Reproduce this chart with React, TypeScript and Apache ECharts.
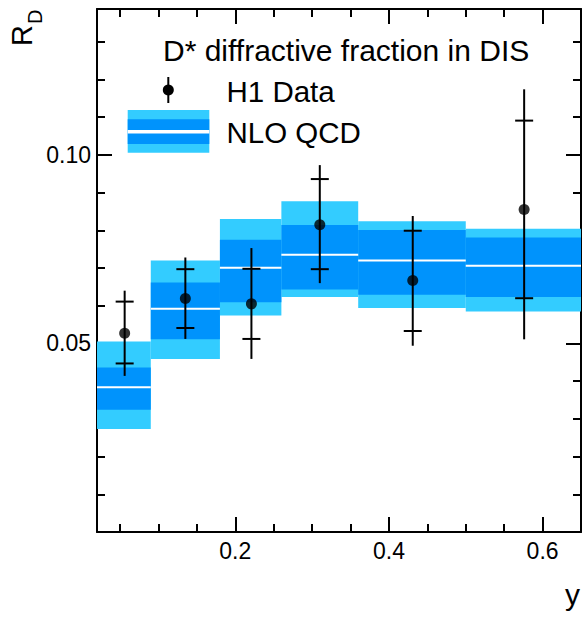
import { useEffect, useRef } from "react";
import * as echarts from "echarts";

// Bin edges in y
const binLow = [0.02, 0.09, 0.18, 0.26, 0.36, 0.5];
const binHigh = [0.09, 0.18, 0.26, 0.36, 0.5, 0.65];

// NLO QCD prediction: central value, inner and outer uncertainty bands
const nloCentral = [0.0384, 0.0592, 0.0701, 0.0735, 0.072, 0.0706];
const nloInnerLow = [0.0324, 0.0511, 0.0609, 0.0643, 0.0629, 0.0623];
const nloInnerHigh = [0.0436, 0.0662, 0.0775, 0.0814, 0.0801, 0.0781];
const nloOuterLow = [0.0273, 0.0459, 0.0574, 0.0623, 0.0594, 0.0585];
const nloOuterHigh = [0.0505, 0.072, 0.083, 0.0877, 0.0824, 0.0804];

// H1 data points with statistical (crossbars) and total (line) errors
const dataY = [0.056, 0.135, 0.221, 0.31, 0.431, 0.576];
const dataRD = [0.0527, 0.0619, 0.0605, 0.0815, 0.0667, 0.0855];
const statLow = [0.0447, 0.0541, 0.0512, 0.0697, 0.0533, 0.062];
const statHigh = [0.0611, 0.0697, 0.0698, 0.0936, 0.0799, 0.1091];
const totalLow = [0.0414, 0.0512, 0.0459, 0.066, 0.0494, 0.0511];
const totalHigh = [0.064, 0.0728, 0.0753, 0.0973, 0.0838, 0.1174];

// Axis ranges and ticks
const xMin = 0.02;
const xMax = 0.65;
const yMin = 0;
const yMax = 0.1387;
const xMajorTicks = [0.2, 0.4, 0.6];
const xMinorTicks = [0.05, 0.1, 0.15, 0.25, 0.3, 0.35, 0.45, 0.5, 0.55];
const yMajorTicks = [0.05, 0.1];
const yMinorTicks = [0.01, 0.02, 0.03, 0.04, 0.06, 0.07, 0.08, 0.09, 0.11, 0.12, 0.13];

const FONT = "'Liberation Sans', Arial, Helvetica, sans-serif";
const LIGHT = "#33ccff";
const DARK = "#0093fc";

function makeAxis(
  dim: "x" | "y",
  position: string,
  ticks: number[],
  length: number,
  labels: boolean,
  line: boolean
) {
  const isX = dim === "x";
  return {
    type: "value",
    position,
    min: isX ? xMin : yMin,
    max: isX ? xMax : yMax,
    splitLine: { show: false },
    axisLine: { show: line, onZero: false, lineStyle: { color: "#000", width: 2 } },
    axisTick: {
      show: true,
      inside: true,
      length,
      customValues: ticks,
      lineStyle: { color: "#000", width: 2 },
    },
    axisLabel: labels
      ? {
          show: true,
          customValues: ticks,
          color: "#000",
          fontFamily: FONT,
          fontSize: 23,
          margin: isX ? 7 : 6,
          formatter: (v: number) => (isX ? v.toFixed(1) : v.toFixed(2)),
        }
      : { show: false },
  };
}

function bandSeries(low: number[], high: number[], color: string, z: number) {
  return {
    type: "custom",
    xAxisIndex: 0,
    yAxisIndex: 0,
    silent: true,
    z,
    data: binLow.map((x0, i) => [x0, binHigh[i], low[i], high[i]]),
    encode: { x: [0, 1], y: [2, 3] },
    renderItem: (_params: any, api: any) => {
      const a = api.coord([api.value(0), api.value(3)]);
      const b = api.coord([api.value(1), api.value(2)]);
      return {
        type: "rect",
        shape: { x: a[0], y: a[1], width: b[0] - a[0], height: b[1] - a[1] },
        style: { fill: color },
      };
    },
  };
}

export default function App() {
  const ref = useRef<HTMLDivElement>(null);

  useEffect(() => {
    if (!ref.current) return;
    const chart = echarts.init(ref.current, undefined, { renderer: "svg" });

    const option = {
      animation: false,
      backgroundColor: "#fff",
      grid: { left: 97, right: 2, top: 9, bottom: 85, containLabel: false },
      xAxis: [
        makeAxis("x", "bottom", xMajorTicks, 15, true, true),
        makeAxis("x", "bottom", xMinorTicks, 8, false, false),
        makeAxis("x", "top", xMajorTicks, 15, false, true),
        makeAxis("x", "top", xMinorTicks, 8, false, false),
      ],
      yAxis: [
        makeAxis("y", "left", yMajorTicks, 15, true, true),
        makeAxis("y", "left", yMinorTicks, 8, false, false),
        makeAxis("y", "right", yMajorTicks, 15, false, true),
        makeAxis("y", "right", yMinorTicks, 8, false, false),
      ],
      series: [
        bandSeries(nloOuterLow, nloOuterHigh, LIGHT, 1),
        bandSeries(nloInnerLow, nloInnerHigh, DARK, 2),
        {
          type: "custom",
          xAxisIndex: 0,
          yAxisIndex: 0,
          silent: true,
          z: 3,
          data: binLow.map((x0, i) => [x0, binHigh[i], nloCentral[i]]),
          encode: { x: [0, 1], y: 2 },
          renderItem: (_params: any, api: any) => {
            const a = api.coord([api.value(0), api.value(2)]);
            const b = api.coord([api.value(1), api.value(2)]);
            return {
              type: "line",
              shape: { x1: a[0], y1: a[1], x2: b[0], y2: b[1] },
              style: { stroke: "#fff", lineWidth: 2 },
            };
          },
        },
        {
          type: "custom",
          xAxisIndex: 0,
          yAxisIndex: 0,
          silent: true,
          z: 4,
          data: dataY.map((x, i) => [x, totalLow[i], totalHigh[i], statLow[i], statHigh[i]]),
          encode: { x: 0, y: [1, 2] },
          renderItem: (_params: any, api: any) => {
            const x = api.value(0);
            const tl = api.coord([x, api.value(1)]);
            const th = api.coord([x, api.value(2)]);
            const sl = api.coord([x, api.value(3)]);
            const sh = api.coord([x, api.value(4)]);
            const half = 9;
            const st = { stroke: "#000", lineWidth: 2 };
            return {
              type: "group",
              children: [
                { type: "line", shape: { x1: tl[0], y1: tl[1], x2: th[0], y2: th[1] }, style: st },
                { type: "line", shape: { x1: sl[0] - half, y1: sl[1], x2: sl[0] + half, y2: sl[1] }, style: st },
                { type: "line", shape: { x1: sh[0] - half, y1: sh[1], x2: sh[0] + half, y2: sh[1] }, style: st },
              ],
            };
          },
        },
        {
          type: "scatter",
          name: "H1 Data",
          xAxisIndex: 0,
          yAxisIndex: 0,
          z: 5,
          symbol: "circle",
          symbolSize: 11,
          itemStyle: { color: "#000" },
          data: dataY.map((x, i) => [x, dataRD[i]]),
        },
      ],
      graphic: [
        // axis titles
        {
          type: "group",
          x: 22,
          y: 46,
          rotation: Math.PI / 2,
          children: [
            {
              type: "text",
              x: 0,
              y: 0,
              style: { text: "R", fontFamily: FONT, fontSize: 29, fill: "#000", align: "left", verticalAlign: "middle" },
            },
            {
              type: "text",
              x: 22,
              y: 13,
              style: { text: "D", fontFamily: FONT, fontSize: 20, fill: "#000", align: "left", verticalAlign: "middle" },
            },
          ],
        },
        {
          type: "text",
          x: 580,
          y: 594,
          style: { text: "y", fontFamily: FONT, fontSize: 30, fill: "#000", align: "right", verticalAlign: "middle" },
        },
        // legend
        {
          type: "text",
          x: 163,
          y: 50,
          style: {
            text: "D* diffractive fraction in DIS",
            fontFamily: FONT,
            fontSize: 30,
            fill: "#000",
            align: "left",
            verticalAlign: "middle",
          },
        },
        {
          type: "line",
          shape: { x1: 168.3, y1: 77, x2: 168.3, y2: 103 },
          style: { stroke: "#000", lineWidth: 2 },
        },
        { type: "circle", shape: { cx: 168.3, cy: 90, r: 5.5 }, style: { fill: "#000" } },
        {
          type: "text",
          x: 226.5,
          y: 91,
          style: { text: "H1 Data", fontFamily: FONT, fontSize: 29.5, fill: "#000", align: "left", verticalAlign: "middle" },
        },
        { type: "rect", shape: { x: 127.7, y: 110, width: 81.6, height: 42.7 }, style: { fill: LIGHT } },
        { type: "rect", shape: { x: 127.7, y: 119.3, width: 81.6, height: 24.7 }, style: { fill: DARK } },
        {
          type: "line",
          shape: { x1: 127.7, y1: 131.7, x2: 209.3, y2: 131.7 },
          style: { stroke: "#fff", lineWidth: 3.5 },
        },
        {
          type: "text",
          x: 226.5,
          y: 132,
          style: { text: "NLO QCD", fontFamily: FONT, fontSize: 29.5, fill: "#000", align: "left", verticalAlign: "middle" },
        },
      ],
    };

    chart.setOption(option as any);
    return () => chart.dispose();
  }, []);

  return (
    <div
      ref={ref}
      style={{ position: "fixed", left: 0, top: 0, width: 583, height: 617, background: "#fff" }}
    />
  );
}
